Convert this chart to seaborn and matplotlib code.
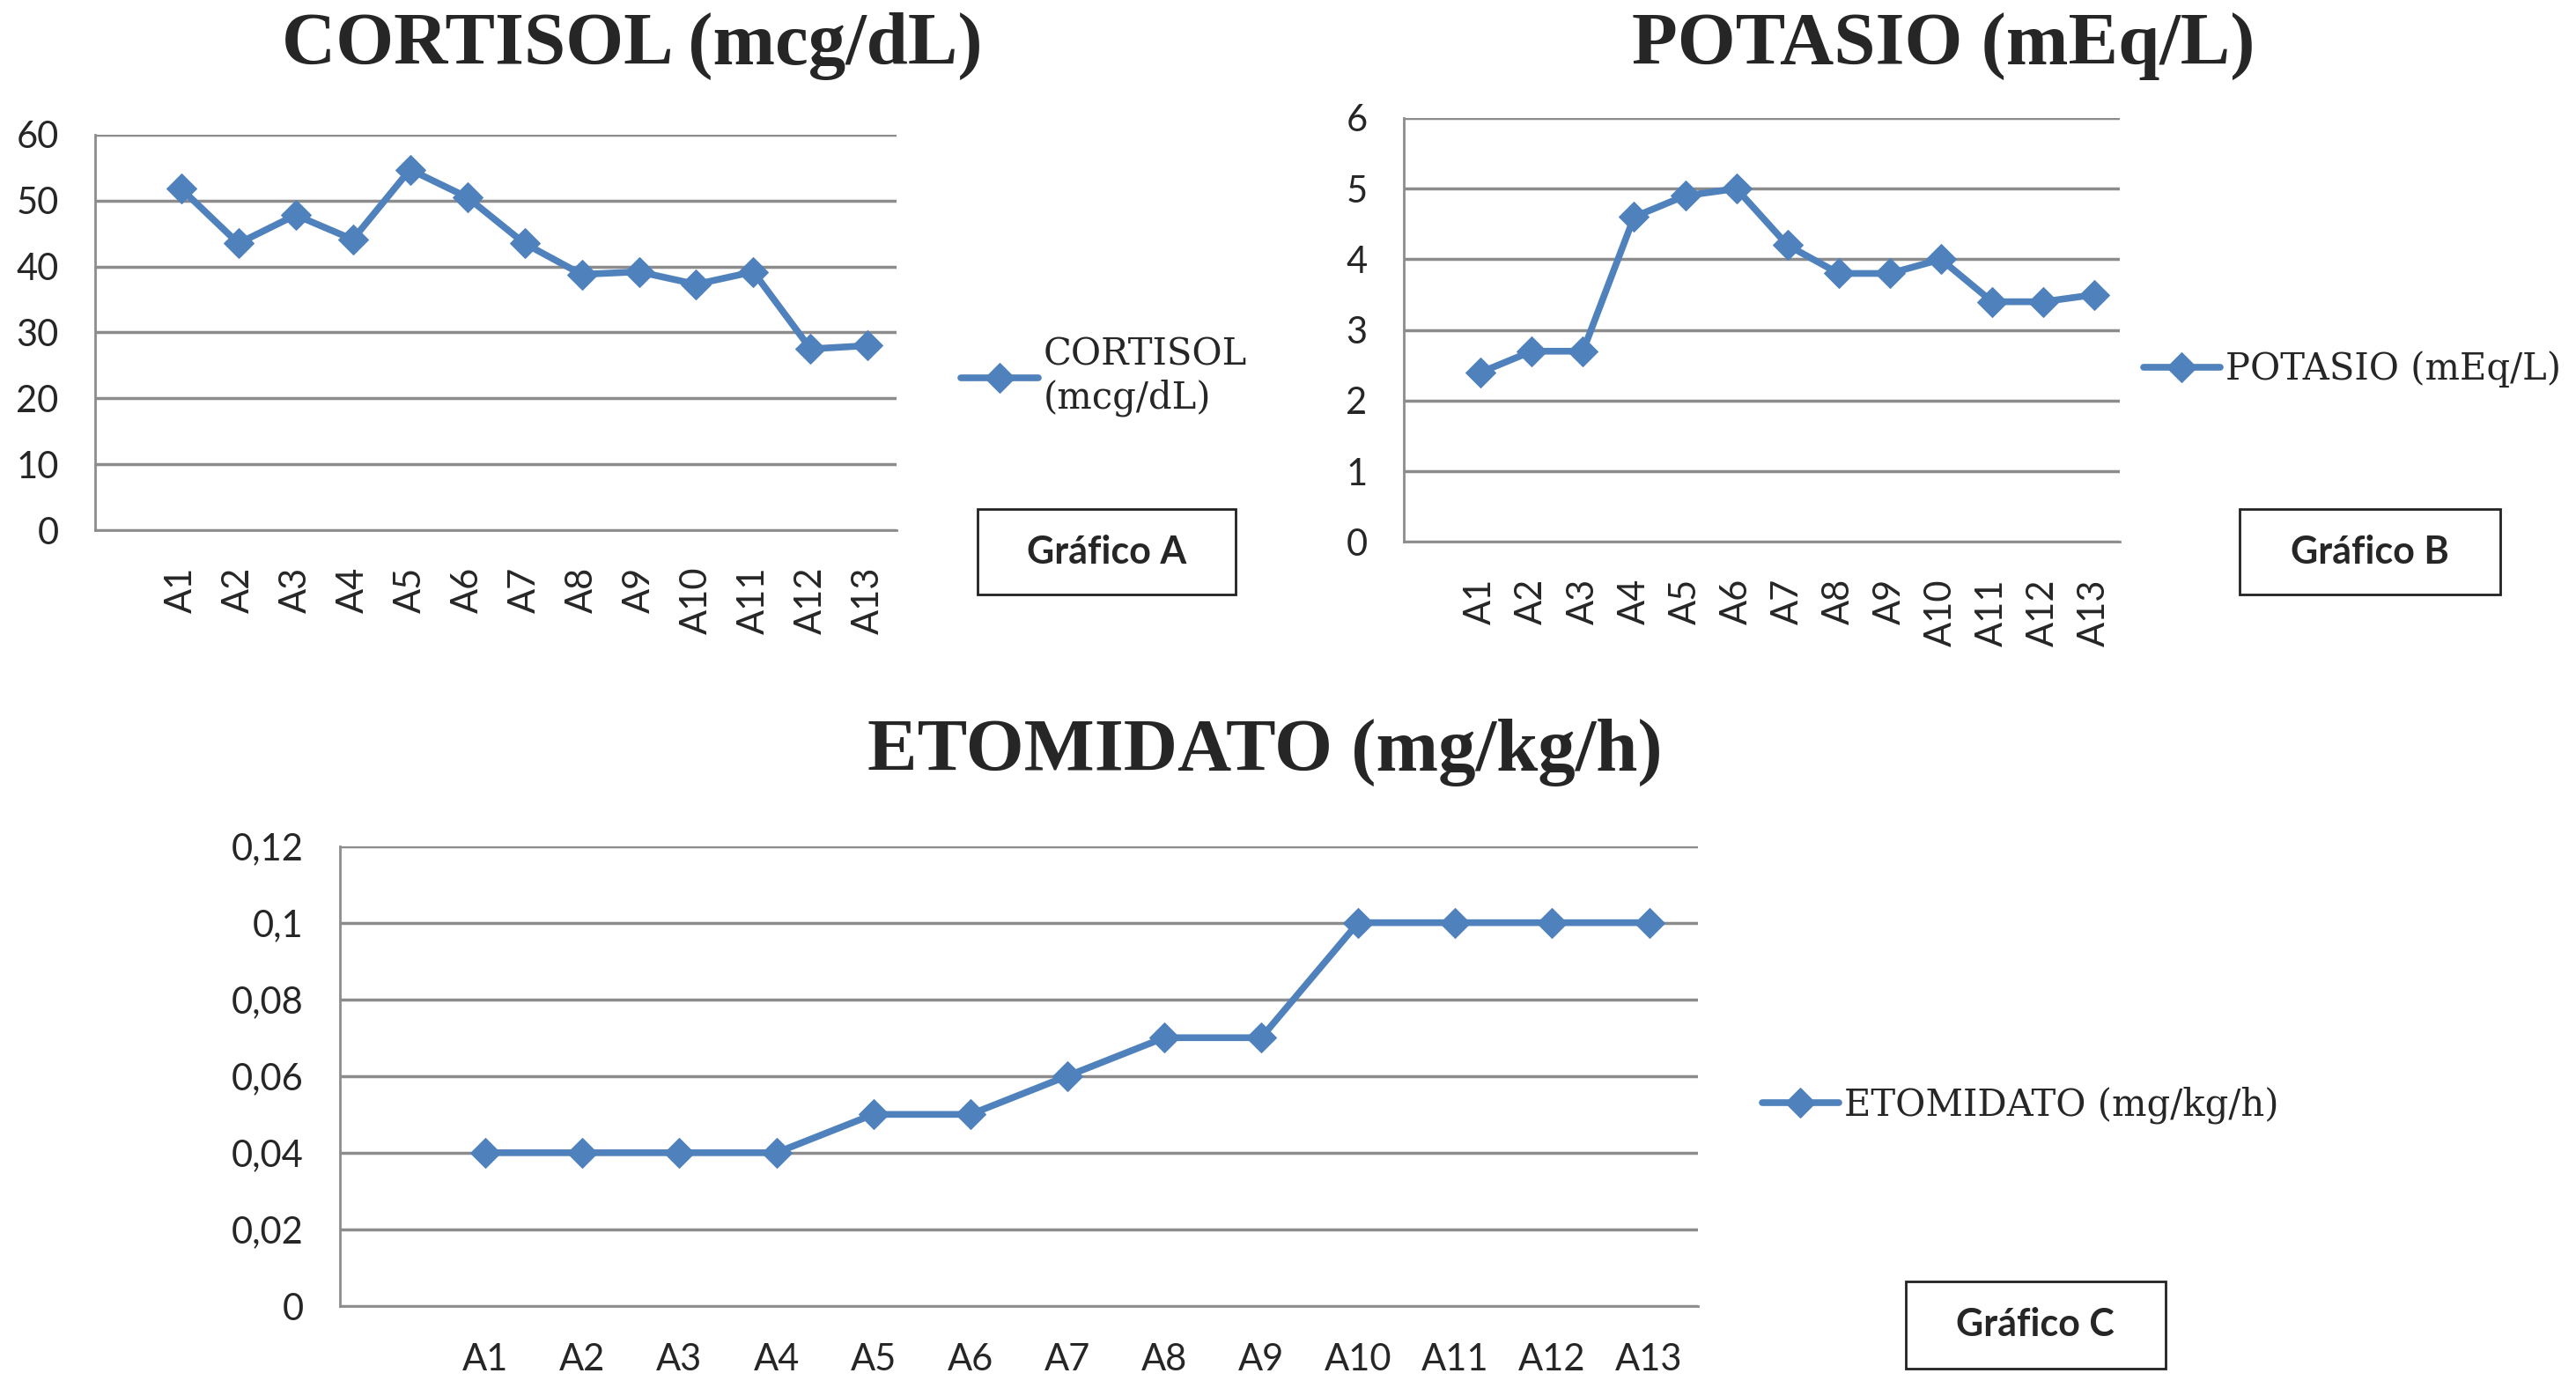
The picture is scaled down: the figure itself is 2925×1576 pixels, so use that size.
import numpy as np
import pandas as pd
import matplotlib
matplotlib.use("Agg")
import matplotlib.pyplot as plt
from matplotlib.patches import Rectangle
from matplotlib.ticker import FuncFormatter
import seaborn as sns

# Data
samples = ['A1', 'A2', 'A3', 'A4', 'A5', 'A6', 'A7', 'A8', 'A9', 'A10', 'A11', 'A12', 'A13']
cortisol = [51.8, 43.5, 47.8, 44.1, 54.7, 50.5, 43.5, 38.8, 39.2, 37.3, 39.2, 27.5, 28.0]
potasio = [2.4, 2.7, 2.7, 4.6, 4.9, 5.0, 4.2, 3.8, 3.8, 4.0, 3.4, 3.4, 3.5]
etomidato = [0.04, 0.04, 0.04, 0.04, 0.05, 0.05, 0.06, 0.07, 0.07, 0.1, 0.1, 0.1, 0.1]

sns.set_style("white")
plt.rcParams['font.family'] = ['Lato', 'DejaVu Sans']

LINE_COLOR = '#4F81BD'
GRID_COLOR = '#8C8C8C'
TITLE_FONT = ['Liberation Serif', 'DejaVu Serif']
LEGEND_FONT = ['DejaVu Serif']

fig = plt.figure(figsize=(29.25, 15.76), dpi=100)


def draw_panel(rect, values, legend_label, yticks, rotate, fmt=None):
    ax = fig.add_axes(rect)
    df = pd.DataFrame({'pos': np.arange(1, len(samples) + 1), 'value': values})
    sns.lineplot(data=df, x='pos', y='value', ax=ax, color=LINE_COLOR,
                 linewidth=5.5, marker='D', markersize=17,
                 markeredgecolor=LINE_COLOR, label=legend_label)
    ax.set_xlim(-0.5, len(samples) + 0.5)
    ax.set_ylim(yticks[0], yticks[-1])
    ax.set_yticks(yticks)
    if fmt is not None:
        ax.yaxis.set_major_formatter(FuncFormatter(fmt))
    ax.set_xticks(np.arange(1, len(samples) + 1))
    ax.set_xticks(np.arange(-0.5, len(samples) + 1, 1), minor=True)
    ax.set_xticklabels(samples, rotation=90 if rotate else 0)
    ax.tick_params(axis='x', which='major', length=0, pad=30, labelsize=30)
    ax.tick_params(axis='x', which='minor', length=14, width=2, color=GRID_COLOR,
                   direction='out')
    ax.tick_params(axis='y', length=10, width=2, color=GRID_COLOR, direction='out',
                   labelsize=30, pad=20)
    ax.yaxis.grid(True, color=GRID_COLOR, linewidth=2.5)
    ax.set_axisbelow(True)
    for s in ['top', 'right']:
        ax.spines[s].set_visible(False)
    for s in ['left', 'bottom']:
        ax.spines[s].set_color(GRID_COLOR)
        ax.spines[s].set_linewidth(2)
    ax.set_xlabel('')
    ax.set_ylabel('')
    ax.get_legend().remove()
    return ax


def comma_fmt(v, pos):
    if abs(v) < 1e-12:
        return '0'
    return ('%g' % v).replace('.', ',')


# Panel A
axA = draw_panel([0.037, 0.618, 0.311, 0.285], cortisol, 'CORTISOL\n(mcg/dL)',
                 [0, 10, 20, 30, 40, 50, 60], rotate=True)
# Panel B
axB = draw_panel([0.545, 0.6095, 0.278, 0.3055], potasio, 'POTASIO (mEq/L)',
                 [0, 1, 2, 3, 4, 5, 6], rotate=True)
# Panel C
axC = draw_panel([0.132, 0.059, 0.527, 0.3315], etomidato, 'ETOMIDATO (mg/kg/h)',
                 [0, 0.02, 0.04, 0.06, 0.08, 0.1, 0.12], rotate=False, fmt=comma_fmt)

# Titles
fig.text(0.2455, 0.967, 'CORTISOL (mcg/dL)', ha='center', va='center',
         fontsize=61, fontweight='bold', family=TITLE_FONT)
fig.text(0.7545, 0.967, 'POTASIO (mEq/L)', ha='center', va='center',
         fontsize=61, fontweight='bold', family=TITLE_FONT)
fig.text(0.491, 0.458, 'ETOMIDATO (mg/kg/h)', ha='center', va='center',
         fontsize=61, fontweight='bold', family=TITLE_FONT)

# Legends
for ax, anchor in [(axA, (0.373, 0.729)), (axB, (0.832, 0.734)), (axC, (0.684, 0.2036))]:
    h, l = ax.get_legend_handles_labels()
    fig.legend(h, l, loc='center left', bbox_to_anchor=anchor,
               frameon=False, handlelength=2.1, handletextpad=0.15,
               borderpad=0, borderaxespad=0, labelspacing=0.2,
               prop={'family': LEGEND_FONT, 'size': 30})

# "Gráfico" boxes
boxes = [('Gráfico A', 0.3795, 0.5716, 0.1001, 0.0615),
         ('Gráfico B', 0.8693, 0.5716, 0.1014, 0.0615),
         ('Gráfico C', 0.7398, 0.0142, 0.1008, 0.0627)]
for text, x0, y0, w, h in boxes:
    fig.add_artist(Rectangle((x0, y0), w, h, transform=fig.transFigure,
                             facecolor='white', edgecolor='#222222', linewidth=2))
    fig.text(x0 + w / 2, y0 + h / 2, text, ha='center', va='center',
             fontsize=31, fontweight='bold')

fig.savefig('out.png', dpi=100, facecolor='white')
